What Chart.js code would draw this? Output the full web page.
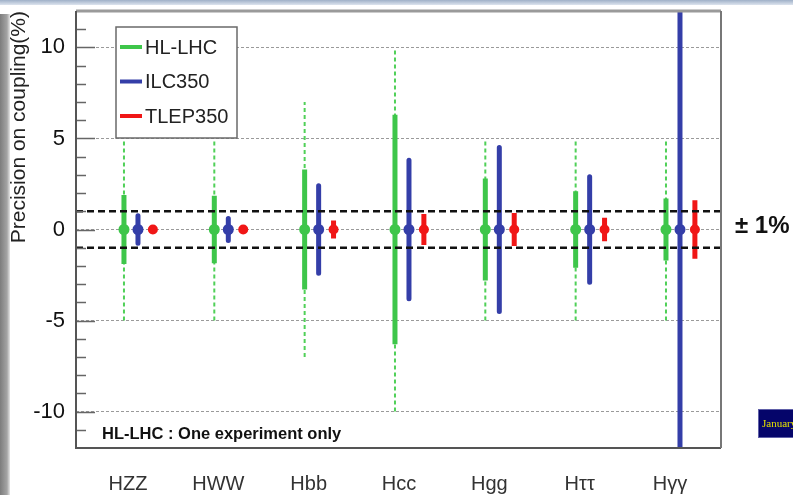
<!DOCTYPE html>
<html>
<head>
<meta charset="utf-8">
<script src="https://cdn.jsdelivr.net/npm/chart.js@4"></script>
<style>
  html, body { margin: 0; padding: 0; background: #fff; }
  #c { display: block; }
</style>
</head>
<body>
<canvas id="c" width="793" height="495"></canvas>
<script>
// Higgs couplings and their projected precision (%), per facility
const categories = ['HZZ', 'HWW', 'Hbb', 'Hcc', 'Hgg', 'H\u03c4\u03c4', 'H\u03b3\u03b3'];
const seriesNames = ['HL-LHC', 'ILC350', 'TLEP350'];
const hlLhc      = [1.9, 1.85, 3.3, 6.3, 2.8, 2.1, 1.7];   // HL-LHC, solid bar
const hlLhcRange = [5, 5, 7, 10, 5, 5, 5];                 // HL-LHC, dashed extension
const ilc350     = [0.75, 0.6, 2.4, 3.8, 4.5, 2.9, 12];
const tlep350    = [0.2, 0.2, 0.5, 0.85, 0.9, 0.65, 1.6];
const yTicks     = [-10, -5, 0, 5, 10];
const bandLevel  = 1;   // the ±1% reference lines

const FONT = '"Liberation Sans", Arial, Helvetica, sans-serif';
const GREEN = 'rgb(62,198,74)';
const GREEN_DASH = 'rgb(80,208,88)';
const BLUE = 'rgb(52,62,168)';
const RED = 'rgb(240,22,22)';
const seriesColors = [GREEN, BLUE, RED];

const X_MIN = 0.314, X_MAX = 7.454;
const DX = { hl: -0.155, ilc: 0, tlep: 0.165 };

// vertical segments from -v to +v, separated by gaps
function bars(vals, dx) {
  const pts = [];
  vals.forEach((v, i) => {
    const x = i + 1 + dx;
    pts.push({ x, y: -v }, { x, y: v }, { x, y: null });
  });
  return pts;
}
function centres(vals, dx) {
  return vals.map((v, i) => ({ x: i + 1 + dx, y: 0 }));
}

const barStyle = (color, cap) => ({
  type: 'line', borderColor: color, borderWidth: 5, borderCapStyle: cap,
  pointRadius: 0, spanGaps: false, fill: false, order: 3
});
const markerStyle = (color, r) => ({
  type: 'scatter', backgroundColor: color, borderColor: color, borderWidth: 0,
  pointRadius: r, showLine: false, order: 2
});

const datasets = [
  {
    label: 'band', type: 'line',
    data: [{ x: X_MIN, y: bandLevel }, { x: X_MAX, y: bandLevel }, { x: X_MAX, y: null },
           { x: X_MIN, y: -bandLevel }, { x: X_MAX, y: -bandLevel }],
    borderColor: '#111', borderWidth: 2.5, borderDash: [7, 4], pointRadius: 0,
    spanGaps: false, order: 1
  },
  {
    label: 'HL-LHC range', type: 'line', data: bars(hlLhcRange, DX.hl),
    borderColor: GREEN_DASH, borderWidth: 2, borderDash: [4, 3],
    pointRadius: 0, spanGaps: false, order: 4
  },
  Object.assign({ label: seriesNames[0], data: bars(hlLhc, DX.hl) }, barStyle(GREEN, 'butt')),
  Object.assign({ label: seriesNames[1], data: bars(ilc350, DX.ilc) }, barStyle(BLUE, 'round')),
  Object.assign({ label: seriesNames[2], data: bars(tlep350, DX.tlep) }, barStyle(RED, 'butt')),
  Object.assign({ label: 'hl-c', data: centres(hlLhc, DX.hl) }, markerStyle(GREEN, 5.5)),
  Object.assign({ label: 'ilc-c', data: centres(ilc350, DX.ilc) }, markerStyle(BLUE, 5.5)),
  Object.assign({ label: 'tlep-c', data: centres(tlep350, DX.tlep) }, markerStyle(RED, 5))
];

// page background with the thin window edges
const backdrop = {
  id: 'backdrop',
  beforeDraw(chart) {
    const { ctx, width, height } = chart;
    ctx.save();
    ctx.fillStyle = '#fff';
    ctx.fillRect(0, 0, width, height);
    const g = ctx.createLinearGradient(0, 0, 0, 5);
    g.addColorStop(0, '#9fb0c8');
    g.addColorStop(1, '#dde4ee');
    ctx.fillStyle = g;
    ctx.fillRect(0, 0, width, 5);
    const s = ctx.createLinearGradient(0, 0, 10, 0);
    s.addColorStop(0, '#7d7d7d');
    s.addColorStop(0.7, '#a4a4a4');
    s.addColorStop(1, '#e6e6e6');
    ctx.fillStyle = s;
    ctx.fillRect(0, 14, 10, height - 14);
    ctx.restore();
  }
};

// frame, inner tick marks, legend box and annotations
const decorations = {
  id: 'decorations',
  afterDraw(chart) {
    const { ctx, chartArea: a } = chart;
    const y = chart.scales.y;
    ctx.save();

    // inner tick marks on the left axis
    ctx.strokeStyle = '#666';
    ctx.lineWidth = 1.5;
    for (let v = Math.ceil(y.min) + 1; v < y.max; v++) {
      const py = Math.round(y.getPixelForValue(v)) + 0.5;
      const len = v % 5 === 0 ? 19 : 10;
      ctx.beginPath();
      ctx.moveTo(a.left, py);
      ctx.lineTo(a.left + len, py);
      ctx.stroke();
    }

    // frame
    ctx.lineWidth = 3;
    ctx.strokeStyle = '#9a9a9a';
    ctx.beginPath(); ctx.moveTo(a.left, a.top); ctx.lineTo(a.right, a.top); ctx.stroke();
    ctx.lineWidth = 2;
    ctx.strokeStyle = '#555';
    ctx.beginPath();
    ctx.moveTo(a.left, a.top); ctx.lineTo(a.left, a.bottom); ctx.lineTo(a.right, a.bottom);
    ctx.stroke();
    ctx.strokeStyle = '#777';
    ctx.beginPath(); ctx.moveTo(a.right, a.top); ctx.lineTo(a.right, a.bottom); ctx.stroke();

    // legend box
    const lx = a.left + 40, ly = a.top + 16, lw = 121, lh = 111;
    ctx.fillStyle = '#fff';
    ctx.fillRect(lx, ly, lw, lh);
    ctx.strokeStyle = '#6a6a6a';
    ctx.lineWidth = 1.5;
    ctx.strokeRect(lx, ly, lw, lh);
    ctx.font = '20px ' + FONT;
    ctx.textBaseline = 'middle';
    ctx.textAlign = 'left';
    seriesNames.forEach((name, i) => {
      const ry = ly + 20 + i * 34.5;
      ctx.fillStyle = seriesColors[i];
      ctx.fillRect(lx + 4, ry - 2, 22, 4);
      ctx.fillStyle = '#222';
      ctx.fillText(name, lx + 29, ry + 1);
    });

    // note inside the frame
    ctx.font = 'bold 16.5px ' + FONT;
    ctx.fillStyle = '#111';
    ctx.fillText('HL-LHC : One experiment only', a.left + 26, a.bottom - 14);

    // label of the reference band
    ctx.font = 'bold 24px ' + FONT;
    ctx.fillText('\u00b1 1%', a.right + 14, y.getPixelForValue(0) - 3);

    // date tag at the lower right
    ctx.fillStyle = '#05056a';
    ctx.fillRect(758, 409, 40, 29);
    ctx.strokeStyle = '#6060a8';
    ctx.lineWidth = 1;
    ctx.strokeRect(758.5, 409.5, 40, 28);
    ctx.font = '11px "Liberation Serif", "DejaVu Serif", serif';
    ctx.fillStyle = '#e4e000';
    ctx.fillText('January', 762, 424);

    ctx.restore();
  }
};

const noOverflow = s => { s.paddingTop = 0; s.paddingBottom = 0; s.paddingLeft = 0; s.paddingRight = 0; };

new Chart(document.getElementById('c'), {
  type: 'line',
  data: { datasets },
  plugins: [backdrop, decorations],
  options: {
    responsive: false,
    animation: false,
    events: [],
    layout: { autoPadding: false, padding: { top: 11, right: 72, left: 0, bottom: 0 } },
    plugins: { legend: { display: false }, tooltip: { enabled: false } },
    scales: {
      x: {
        type: 'linear', min: X_MIN, max: X_MAX,
        afterBuildTicks: s => { s.ticks = categories.map((c, i) => ({ value: i + 1 - 0.11 })); },
        afterFit: s => { s.height = 47; noOverflow(s); },
        ticks: {
          autoSkip: false, maxRotation: 0, padding: 24, color: '#333',
          font: { family: FONT, size: 20 },
          callback: (v, i) => categories[i]
        },
        grid: { display: false, drawTicks: false, drawOnChartArea: false },
        border: { display: false }
      },
      y: {
        type: 'linear', min: -12, max: 12,
        afterBuildTicks: s => { s.ticks = yTicks.map(v => ({ value: v })); },
        afterFit: s => { s.width = 76; noOverflow(s); },
        ticks: { padding: 11, color: '#111', font: { family: FONT, size: 22 } },
        grid: { color: '#9a9a9a', lineWidth: 1, drawTicks: false },
        border: { display: false, dash: [3, 2] },
        title: {
          display: true, text: 'Precision on coupling(%)', align: 'end',
          color: '#222', font: { family: FONT, size: 21 }, padding: { top: 7, bottom: 0 }
        }
      }
    }
  }
});
</script>
</body>
</html>
